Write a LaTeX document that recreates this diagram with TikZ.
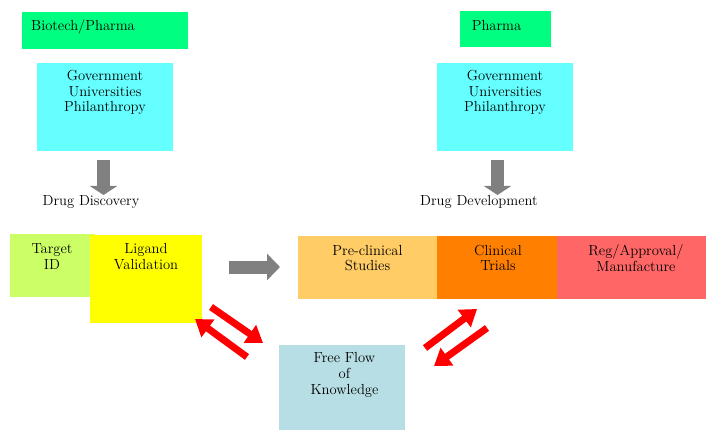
\documentclass[tikz,border=0pt]{standalone}
\usetikzlibrary{arrows.meta}
\definecolor{cgreen}{RGB}{0,255,128}
\definecolor{ccyan}{RGB}{102,255,255}
\definecolor{clime}{RGB}{204,255,102}
\definecolor{cyellow}{RGB}{255,255,0}
\definecolor{cpeach}{RGB}{255,204,102}
\definecolor{corange}{RGB}{255,128,0}
\definecolor{csalmon}{RGB}{255,102,102}
\definecolor{cblue}{RGB}{183,222,228}
\definecolor{cgray}{RGB}{128,128,128}
\begin{document}
\begin{tikzpicture}[x=1pt,y=-1pt,
  box/.style={rectangle,inner sep=0pt,outer sep=0pt,draw=none},
  txt/.style={inner sep=0pt,align=center,font=\fontsize{14.6}{15.8}\selectfont},
  grayarrow/.style={draw=cgray,line width=13pt,-{Triangle[length=9pt,width=27pt]}},
  grayarrowr/.style={draw=cgray,line width=13pt,-{Triangle[length=13pt,width=26pt]}},
  redarrow/.style={draw=red,line width=7pt,-{Triangle[length=16pt,width=21pt]}}]
\useasboundingbox (0,0) rectangle (706,430);
% top boxes
\node[box,fill=cgreen,minimum width=166pt,minimum height=37pt] (bp) at (105,30.5) {};
\node[txt] (bpt) at (83,27) {Biotech/Pharma};
\node[box,fill=cgreen,minimum width=91pt,minimum height=36pt] (ph) at (505.5,29) {};
\node[txt] (pht) at (496.5,26) {Pharma};
\node[box,fill=ccyan,minimum width=136pt,minimum height=88pt] (gl) at (105,107) {};
\node[txt] (glt) at (105,92.5) {Government\\Universities\\Philanthropy};
\node[box,fill=ccyan,minimum width=136pt,minimum height=88pt] (gr) at (505,107) {};
\node[txt] (grt) at (505,92.5) {Government\\Universities\\Philanthropy};
% down arrows
\coordinate (dl1) at (103.5,160);
\coordinate (dl2) at (103.5,195);
\draw[grayarrow] (dl1) -- (dl2);
\coordinate (dr1) at (497.5,160);
\coordinate (dr2) at (497.5,195);
\draw[grayarrow] (dr1) -- (dr2);
\node[txt] (dd) at (91,202) {Drug Discovery};
\node[txt] (ddv) at (479,202) {Drug Development};
% left stage
\node[box,fill=clime,minimum width=85pt,minimum height=63pt] (tid) at (52.5,265.5) {};
\node[txt] (tidt) at (52,256.5) {Target\\ID};
\node[box,fill=cyellow,minimum width=112pt,minimum height=88pt] (lv) at (146,279) {};
\node[txt] (lvt) at (146,256.5) {Ligand\\Validation};
% right arrow
\coordinate (ra1) at (229,267);
\coordinate (ra2) at (280,267);
\draw[grayarrowr] (ra1) -- (ra2);
% development stages
\node[box,fill=cpeach,minimum width=139pt,minimum height=63pt] (pc) at (367.5,267.5) {};
\node[txt] (pct) at (367.5,258) {Pre-clinical\\Studies};
\node[box,fill=corange,minimum width=120pt,minimum height=63pt] (ct) at (497,267.5) {};
\node[txt] (ctt) at (498,258) {Clinical\\Trials};
\node[box,fill=csalmon,minimum width=149pt,minimum height=63pt] (rg) at (631.5,267.5) {};
\node[txt] (rgt) at (636,258) {Reg/Approval/\\Manufacture};
% knowledge
\node[box,fill=cblue,minimum width=126pt,minimum height=85pt] (ff) at (342,387.5) {};
\node[txt] (fft) at (344.5,375) {Free Flow\\of\\Knowledge};
% red arrows
\coordinate (a1s) at (211,307);
\coordinate (a1e) at (263,343);
\draw[redarrow] (a1s) -- (a1e);
\coordinate (a2s) at (247,357);
\coordinate (a2e) at (195,319);
\draw[redarrow] (a2s) -- (a2e);
\coordinate (a3s) at (425,348);
\coordinate (a3e) at (477,309);
\draw[redarrow] (a3s) -- (a3e);
\coordinate (a4s) at (487,328);
\coordinate (a4e) at (434,366);
\draw[redarrow] (a4s) -- (a4e);
\end{tikzpicture}
\end{document}
